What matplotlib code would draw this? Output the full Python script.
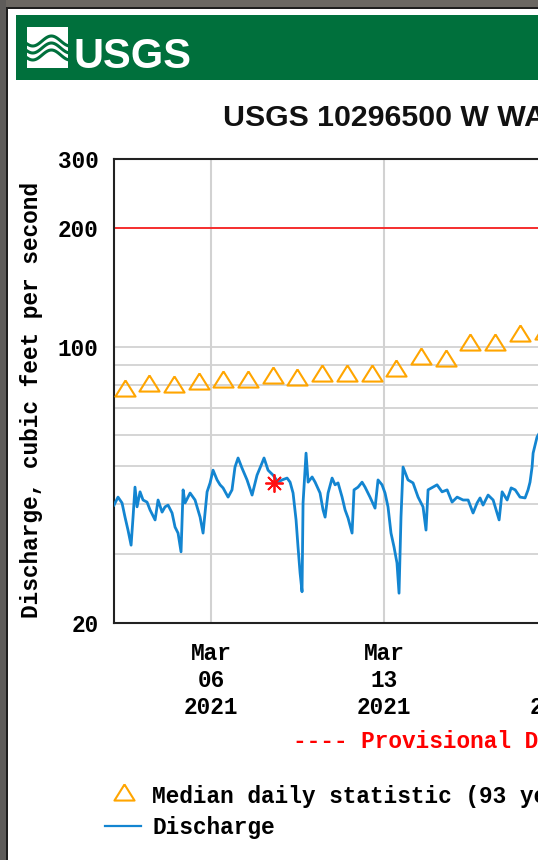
import numpy as np
import pandas as pd
import matplotlib
matplotlib.use('Agg')
from matplotlib import pyplot as plt
from matplotlib import font_manager as fm
from matplotlib.patches import Rectangle
from matplotlib.lines import Line2D
from matplotlib.path import Path
from matplotlib.ticker import FixedLocator, NullFormatter

# discharge: hours after 2021-03-02 00:00 and cfs
q_hours = [1.8, 5.7, 9.6, 12.5, 15.4, 18.4, 20.3, 22.2, 24.2, 27.1,
           30.0, 33.9, 36.8, 41.7, 44.6, 48.5, 51.4, 54.3, 58.2, 61.1,
           64.0, 66.9, 68.9, 70.8, 75.7, 80.5, 85.4, 88.3, 92.2, 95.1,
           98.0, 101.9, 104.8, 107.7, 112.6, 116.4, 119.3, 122.3, 126.1, 131.0,
           135.9, 140.7, 145.6, 147.5, 151.4, 156.3, 161.1, 165.0, 169.9, 172.8,
           175.7, 178.6, 180.5, 182.5, 184.4, 185.4, 188.3, 190.3, 194.2, 197.1,
           201.9, 204.8, 206.8, 209.7, 213.6, 216.5, 219.4, 223.3, 226.2, 229.1,
           233.0, 234.9, 238.8, 242.7, 245.6, 250.4, 255.3, 258.2, 262.1, 265.0,
           267.9, 270.8, 273.7, 276.6, 278.6, 280.5, 282.5, 287.3, 292.2, 297.1,
           301.9, 304.8, 306.8, 315.5, 320.4, 325.3, 330.1, 335.0, 340.8, 345.7,
           350.5, 354.4, 357.3, 360.2, 365.1, 370.0, 375.8, 378.7, 383.6, 387.5,
           391.4, 396.1, 401.0, 403.9, 405.8, 407.8, 408.8, 412.6, 415.5]
q_cfs = [39.8, 41.7, 40.3, 37.1, 34.4, 31.5, 37.1, 44.2, 39.4, 43.0,
         41.0, 40.5, 38.7, 36.5, 41.0, 38.2, 39.4, 39.8, 38.0, 35.0,
         33.8, 30.3, 43.5, 40.3, 42.7, 41.0, 37.1, 33.8, 43.0, 45.3,
         48.8, 46.1, 44.8, 44.0, 41.7, 43.5, 49.7, 52.4, 49.4, 46.1,
         42.2, 47.4, 50.9, 52.4, 48.8, 47.4, 45.5, 46.1, 46.6, 45.5,
         42.7, 36.5, 31.2, 26.8, 24.0, 40.3, 53.9, 45.5, 46.9, 45.5,
         42.7, 38.7, 37.1, 42.7, 46.6, 44.8, 45.3, 41.7, 38.7, 36.9,
         33.8, 43.5, 44.2, 45.5, 44.2, 41.7, 39.1, 46.1, 44.8, 42.7,
         39.4, 33.8, 31.2, 28.4, 23.8, 37.1, 49.7, 46.1, 45.3, 41.7,
         39.4, 34.4, 43.5, 44.8, 43.0, 43.5, 40.5, 41.7, 41.0, 41.0,
         38.0, 40.3, 41.5, 39.8, 42.2, 41.0, 36.5, 43.0, 41.0, 44.0,
         43.5, 41.7, 41.5, 43.5, 45.5, 49.7, 53.9, 59.2, 61.0]

# median daily statistic (one per day, plotted at noon)
med_days = pd.date_range('2021-03-02', '2021-03-19', freq='D')
med_cfs = [78.9, 81.0, 80.6, 82.1, 82.9, 82.9, 85.0, 83.9, 85.9, 85.9,
           85.9, 88.7, 95.0, 94.0, 103.3, 103.3, 108.4, 110.0]

# field measurement
meas_hour = 157.2
meas_cfs = 45.3

threshold = 200
tick_days = ['2021-03-06', '2021-03-13', '2021-03-20', '2021-03-27']
title = 'USGS 10296500 W WALKER RIVER NEAR COLEVILLE, CA'
ylabel = 'Discharge, cubic feet per second'

W, H = 538, 860
names = {f.name for f in fm.fontManager.ttflist}
mono = ['Liberation Mono', 'DejaVu Sans Mono']
plt.rcParams['font.family'] = mono
plt.rcParams['font.weight'] = 'bold'
fs = 16.4


def fx(px):
    return px / W


def fy(py):
    return 1 - py / H


fig = plt.figure(figsize=(W / 100, H / 100), dpi=100)
fig.patch.set_facecolor('white')

# outer frame
fig.add_artist(Rectangle((0, fy(7)), 1, 7 / H, transform=fig.transFigure,
                         color='#6b6762', lw=0))
fig.add_artist(Rectangle((0, 0), fx(6), 1, transform=fig.transFigure,
                         color='#5e5c5a', lw=0))
fig.add_artist(Rectangle((fx(6), 0), fx(2), fy(7), transform=fig.transFigure,
                         color='#1e1e1e', lw=0))
fig.add_artist(Rectangle((fx(6), fy(9)), 1, 2 / H, transform=fig.transFigure,
                         color='#1e1e1e', lw=0))

# USGS banner
green = '#00703c'
fig.add_artist(Rectangle((fx(16), fy(80)), 1, 65 / H, transform=fig.transFigure,
                         color=green, lw=0))
fig.add_artist(Rectangle((fx(27), fy(68)), fx(41), 41 / H, transform=fig.transFigure,
                         color='white', lw=0))
t = np.linspace(0, 1, 40)
for off in [-7, 0, 7]:
    xs = 27 + 41 * t
    ys = 48 + off + 5 * np.sin(2 * np.pi * t * 1.1 + 0.6)
    fig.add_artist(Line2D(fx(xs), fy(ys), transform=fig.transFigure,
                          color=green, lw=2.2))
logo_font = 'Liberation Sans Narrow' if 'Liberation Sans Narrow' in names else 'Liberation Sans'
logo_size = 38 if logo_font == 'Liberation Sans Narrow' else 30
fig.text(fx(73), fy(68), 'USGS', color='white', fontsize=logo_size,
         family=logo_font, weight='bold', ha='left', va='baseline')

fig.text(fx(223), fy(125), title, fontsize=21.8, family=['Liberation Sans', 'DejaVu Sans'],
         weight='bold', ha='left', va='baseline', color='#111111')

# plot area
base = pd.Timestamp('2021-03-02')
times = base + pd.to_timedelta(q_hours, unit='h')
med_times = med_days + pd.Timedelta(hours=12)
meas_time = base + pd.Timedelta(hours=meas_hour)

px_day = 24.714
ax_right = 800
ax = fig.add_axes([fx(114), fy(623), (ax_right - 114) / W, 464 / H])
x0 = pd.Timestamp('2021-03-06') - pd.Timedelta(days=(211 - 114) / px_day)
x1 = x0 + pd.Timedelta(days=(ax_right - 114) / px_day)
ax.set_xlim(x0, x1)
ax.set_yscale('log')
ax.set_ylim(20, 300)

ax.yaxis.set_major_locator(FixedLocator([20, 100, 200, 300]))
ax.yaxis.set_minor_locator(FixedLocator([30, 40, 50, 60, 70, 80, 90]))
ax.yaxis.set_minor_formatter(NullFormatter())
ax.set_yticklabels(['20', '100', '200', '300'])
ax.set_xticks(pd.to_datetime(tick_days))
ax.set_xticklabels([pd.Timestamp(d).strftime('%b\n%d\n%Y') for d in tick_days])

ax.grid(which='both', axis='y', color='#d2d2d2', lw=1.3, zorder=0)
ax.grid(which='major', axis='x', color='#d2d2d2', lw=1.5, zorder=0)
ax.tick_params(which='both', length=0)
ax.tick_params(axis='y', pad=11, labelsize=fs)
ax.tick_params(axis='x', pad=14, labelsize=fs)
for s in ax.spines.values():
    s.set_linewidth(1.5)
    s.set_color('#222222')

tri = Path([(0, 0.8), (-1, -0.8), (1, -0.8), (0, 0.8)])
ax.axhline(threshold, color='#ff0000', lw=1.1, zorder=2)
ax.plot(med_times, med_cfs, linestyle='none', marker=tri,
        markersize=14.5, markerfacecolor='none', markeredgecolor='#ffa500',
        markeredgewidth=1.5, zorder=3)
ax.plot(times, q_cfs, color='#1385d1', lw=2.0, zorder=4)
ax.plot([meas_time], [meas_cfs], marker=(8, 2, 0), markersize=13,
        color='#ff1010', markeredgewidth=1.3, linestyle='none', zorder=5)

fig.text(fx(32), fy(400), ylabel, rotation=90, fontsize=fs, ha='center', va='center')

# legend block
fig.text(fx(293), fy(748), '---- Provisional Data Subject to Revision ----',
         color='#ff0000', fontsize=fs, ha='left', va='baseline')
fig.add_artist(Line2D([fx(124)], [fy(792)], transform=fig.transFigure, linestyle='none',
                      marker=tri, markersize=14.5, markerfacecolor='none',
                      markeredgecolor='#ffa500', markeredgewidth=1.5))
fig.text(fx(152), fy(803), 'Median daily statistic (93 years)', fontsize=fs,
         ha='left', va='baseline')
fig.add_artist(Line2D([fx(105), fx(141)], [fy(826), fy(826)], transform=fig.transFigure,
                      color='#1385d1', lw=1.6))
fig.text(fx(152), fy(834), 'Discharge', fontsize=fs, ha='left', va='baseline')

fig.savefig('out.png', dpi=100)
